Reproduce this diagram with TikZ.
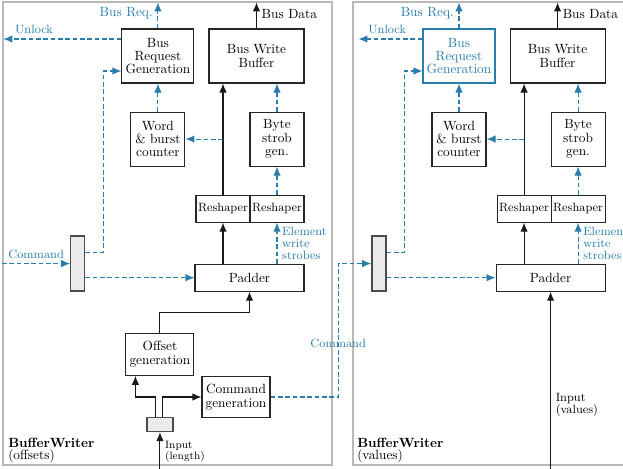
\documentclass[tikz,border=0pt]{standalone}
\usepackage{tikz}
\usetikzlibrary{positioning}
\usetikzlibrary{calc}
\usetikzlibrary{arrows.meta}
\definecolor{sigblue}{RGB}{42,125,170}
\definecolor{panelgray}{RGB}{185,185,185}
\definecolor{muxgray}{RGB}{235,235,235}
\tikzstyle{block} = [draw=black!85, line width=0.8pt, rectangle, align=center, inner sep=1pt, minimum height=40.5pt, font=\fontsize{10}{10}\selectfont]
\tikzstyle{reshape} = [block, minimum height=20.25pt, minimum width=40.5pt, font=\fontsize{9}{9}\selectfont]
\tikzstyle{mux} = [draw=black!70, fill=muxgray, line width=1pt, rectangle, inner sep=0pt]
\tikzstyle{data} = [draw=black!90, line width=0.8pt, ->]
\tikzstyle{sig} = [draw=sigblue, line width=0.8pt, dash pattern=on 3.5pt off 2pt, ->]
\tikzstyle{lbl} = [text=sigblue, font=\fontsize{9}{9}\selectfont, inner sep=3.5pt, align=left]
\tikzstyle{panel} = [draw=panelgray, line width=0.9pt]
\tikzstyle{tag} = [anchor=south west, inner sep=0pt, align=left, font=\fontsize{10}{9}\selectfont]

\begin{document}
\begin{tikzpicture}[>={Latex[length=6.75pt,width=5.6pt]}]
    \useasboundingbox (0,0) rectangle (467.25pt,-351pt);
    \clip (0,0) rectangle (467.25pt,-351pt);
    \draw [panel] (2.25pt,-1.5pt) rectangle (249pt,-348.75pt);
    \draw [panel] (264.75pt,-1.5pt) rectangle (511.5pt,-348.75pt);

    % BufferWriter (offsets)
    \node [block, minimum width=71.25pt] (bwb) at (192.375pt,-42pt) {Bus Write\\Buffer};
    \node [block, minimum width=54pt, left = 10.5pt of bwb] (brg) {Bus\\Request\\Generation};
    \node [block, minimum width=40.5pt, below = 21pt of brg] (word) {Word\\\& burst\\counter};
    \node [block, minimum width=40.5pt, below left = 21pt and 0pt of bwb.south east] (byte) {Byte\\strob\\gen.};
    \node [reshape, below = 21pt of byte] (reshs) {Reshaper};
    \node [reshape, left = -0.8pt of reshs] (reshd) {Reshaper};
    \node [block, minimum width=81.75pt, minimum height=20.25pt, below left = 30.75pt and 0pt of reshs.south east] (padder) {Padder};
    \node [mux, minimum width=10.5pt, minimum height=41.25pt, above left = 0pt and 81.75pt of padder.south west] (mux) {};
    \node [block, minimum width=51pt, minimum height=31.5pt, below left = 30.75pt and 0pt of padder.south west] (offset) {Offset\\generation};
    \node [block, minimum width=51pt, minimum height=31pt, below right = 0pt and 5.25pt of offset.south east] (cmdgen) {Command\\generation};
    \node [mux, minimum width=19.5pt, minimum height=10.5pt, below = 30.75pt of offset] (split) {};
    \node [tag] (tag) at (6pt,-347.25pt) {\textbf{BufferWriter}\\(offsets)};

    \coordinate (busreq) at ($(brg.north)+(0,19.5pt)$);
    \coordinate (busdata) at ($(bwb.north)+(0,19.5pt)$);
    \coordinate (unlock) at ($(brg.west)+(-88.5pt,12.75pt)$);
    \coordinate (cmdin) at ($(mux.west)+(-51pt,0)$);
    \coordinate (inlen) at ($(split.south)+(0,-29.25pt)$);

    \draw [sig] (brg) -- node[lbl, left, pos=0.6, font=\fontsize{10}{10}\selectfont] {Bus Req.} (busreq);
    \draw [data] (bwb) -- node[right, pos=0.55, inner sep=3.5pt, font=\fontsize{10}{10}\selectfont] {Bus Data} (busdata);
    \draw [sig] ([yshift=12.75pt]brg.west) -- node[lbl, above, pos=0.74] {Unlock} (unlock);
    \draw [sig] (word) -- (brg);
    \draw [sig] (byte) -- (byte |- bwb.south);
    \draw [data] (reshd) -- (reshd |- bwb.south);
    \draw [sig] (reshd |- word) -- (word);
    \draw [sig] (reshs) -- (byte);
    \draw [data] (padder.north -| reshd) -- (reshd);
    \draw [sig] (padder.north -| reshs) -- node[lbl, right] {Element\\write\\strobes} (reshs);
    \draw [sig] (cmdin) -- node[lbl, above] {Command} (mux.west);
    \draw [sig] ([yshift=8.6pt]mux.east) -- ++(13.5pt,0) |- ([yshift=-11.25pt]brg.west);
    \draw [sig] (mux.east |- padder.west) -- (padder.west);
    \draw [data] (offset.north) -- ++(0,15pt) -| (padder.south);
    \draw [data] ([xshift=-3.5pt]split.north) -- ([xshift=-3.5pt]split.north |- cmdgen.west) -| ([xshift=7.5pt]offset.south west);
    \draw [data] ([xshift=2pt]split.north) |- (cmdgen.west);
    \draw [data] (inlen) -- node[right, align=left, inner sep=3.5pt, font=\fontsize{8}{7.5}\selectfont] {Input\\(length)} (split);

    % BufferWriter (values)
    \node [block, minimum width=71.25pt, right = 153.75pt of bwb] (bwb2) {Bus Write\\Buffer};
    \node [block, minimum width=54pt, draw=sigblue, text=sigblue, left = 10.5pt of bwb2] (brg2) {Bus\\Request\\Generation};
    \node [block, minimum width=40.5pt, below = 21pt of brg2] (word2) {Word\\\& burst\\counter};
    \node [block, minimum width=40.5pt, below left = 21pt and 0pt of bwb2.south east] (byte2) {Byte\\strob\\gen.};
    \node [reshape, below = 21pt of byte2] (reshs2) {Reshaper};
    \node [reshape, left = -0.8pt of reshs2] (reshd2) {Reshaper};
    \node [block, minimum width=81.75pt, minimum height=20.25pt, below left = 30.75pt and 0pt of reshs2.south east] (padder2) {Padder};
    \node [mux, minimum width=10.5pt, minimum height=41.25pt, above left = 0pt and 81.75pt of padder2.south west] (mux2) {};
    \node [tag] (tag2) at (267.75pt,-347.25pt) {\textbf{BufferWriter}\\(values)};

    \coordinate (busreq2) at ($(brg2.north)+(0,19.5pt)$);
    \coordinate (busdata2) at ($(bwb2.north)+(0,19.5pt)$);
    \coordinate (unlock2) at ($(brg2.west)+(-48pt,12.75pt)$);
    \coordinate (cmdturn) at ($(mux2.west)+(-24.75pt,0)$);
    \coordinate (inval) at (padder2.south |- inlen);

    \draw [sig] (brg2) -- node[lbl, left, pos=0.6, font=\fontsize{10}{10}\selectfont] {Bus Req.} (busreq2);
    \draw [data] (bwb2) -- node[right, pos=0.55, inner sep=3.5pt, font=\fontsize{10}{10}\selectfont] {Bus Data} (busdata2);
    \draw [sig] ([yshift=12.75pt]brg2.west) -- node[lbl, above, pos=0.55] {Unlock} (unlock2);
    \draw [sig] (word2) -- (brg2);
    \draw [sig] (byte2) -- (byte2 |- bwb2.south);
    \draw [data] (reshd2) -- (reshd2 |- bwb2.south);
    \draw [sig] (reshd2 |- word2) -- (word2);
    \draw [sig] (reshs2) -- (byte2);
    \draw [data] (padder2.north -| reshd2) -- (reshd2);
    \draw [sig] (padder2.north -| reshs2) -- node[lbl, right] {Element\\write\\strobes} (reshs2);
    \draw [sig] (cmdgen.east) -| node[lbl, pos=0.7, inner sep=0pt] {Command} (cmdturn) -- (mux2.west);
    \draw [sig] ([yshift=8.6pt]mux2.east) -- ++(13.5pt,0) |- ([yshift=-11.25pt]brg2.west);
    \draw [sig] (mux2.east |- padder2.west) -- (padder2.west);
    \draw [data] (inval) -- node[right, pos=0.37, align=left, inner sep=3.5pt, font=\fontsize{9}{9.25}\selectfont] {Input\\(values)} (padder2);
\end{tikzpicture}
\end{document}
